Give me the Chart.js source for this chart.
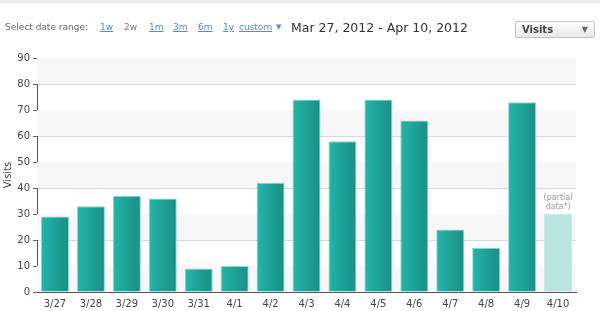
<!DOCTYPE html>
<html>
<head>
<meta charset="utf-8">
<script src="https://cdn.jsdelivr.net/npm/chart.js@4.4.0/dist/chart.umd.min.js"></script>
<style>
  body { margin: 0; width: 600px; height: 311px; overflow: hidden; background: #fff; font-family: "DejaVu Sans", Verdana, sans-serif; }
  #topline { position: absolute; left: 0; top: 0; width: 600px; height: 3px; background: #e9e9e9; }
  .hdr { position: absolute; top: 22px; font-size: 9px; color: #666; white-space: nowrap; }
  .lnk { color: #4a8fd0; text-decoration: underline; }
  #dates { position: absolute; left: 291px; top: 20px; font-size: 12.5px; color: #333; white-space: nowrap; }
  #pick { position: absolute; left: 515px; top: 21px; width: 80px; height: 17px; border: 1px solid #c4c4c4; border-radius: 2px;
          background: linear-gradient(#fdfdfd, #e8e8e8); font-size: 10px; font-weight: bold; color: #444; box-sizing: border-box; }
  #pick b { position: absolute; left: 6px; top: 2px; }
  #pick i { position: absolute; right: 6px; top: 3px; font-style: normal; font-size: 8px; color: #666; }
  #wrap { position: absolute; left: 0; top: 0; width: 600px; height: 311px; }
</style>
</head>
<body>
<div id="topline"></div>
<div id="wrap"><canvas id="grafico" width="600" height="311"></canvas></div>
<div class="hdr" style="left:5px">Select date range:</div>
<div class="hdr lnk" style="left:100px">1w</div>
<div class="hdr" style="left:124px;color:#777">2w</div>
<div class="hdr lnk" style="left:149px">1m</div>
<div class="hdr lnk" style="left:173px">3m</div>
<div class="hdr lnk" style="left:198px">6m</div>
<div class="hdr lnk" style="left:223px">1y</div>
<div class="hdr lnk" style="left:239px">custom</div>
<div class="hdr" style="left:276px;top:23px;color:#4a8fd0;font-size:7px">▼</div>
<div id="dates">Mar 27, 2012 - Apr 10, 2012</div>
<div id="pick"><b>Visits</b><i>▼</i></div>
<script>
const labels = ["3/27", "3/28", "3/29", "3/30", "3/31", "4/1", "4/2", "4/3", "4/4", "4/5", "4/6", "4/7", "4/8", "4/9", "4/10"];
const visits = [29, 33, 37, 36, 9, 10, 42, 74, 58, 74, 66, 24, 17, 73, 30];
const partialIndex = 14;
const yTicks = [0, 10, 20, 30, 40, 50, 60, 70, 80, 90];

const bandsPlugin = {
    id: 'bands',
    beforeDatasetsDraw(chart) {
        const ctx = chart.ctx;
        const y = chart.scales.y;
        const area = chart.chartArea;
        ctx.save();
        ctx.fillStyle = '#f7f7f7';
        for (let v = 0; v < 90; v += 20) {
            const top = y.getPixelForValue(v + 10);
            const bottom = y.getPixelForValue(v);
            ctx.fillRect(area.left, top, area.right - area.left, bottom - top);
        }
        ctx.restore();
    },
    afterDatasetsDraw(chart) {
        const ctx = chart.ctx;
        const bar = chart.getDatasetMeta(0).data[partialIndex];
        ctx.save();
        ctx.fillStyle = '#999';
        ctx.font = '8px "DejaVu Sans"';
        ctx.textAlign = 'center';
        ctx.fillText('(partial', bar.x, bar.y - 14);
        ctx.fillText('data*)', bar.x, bar.y - 5);
        ctx.restore();
    }
};

function barColor(c) {
    if (c.dataIndex === partialIndex) return '#b9e4e0';
    const chart = c.chart;
    if (!chart.chartArea || !chart.scales.x) return '#1fa89c';
    const x = chart.scales.x.getPixelForValue(c.dataIndex);
    const g = chart.ctx.createLinearGradient(x - 14, 0, x + 14, 0);
    g.addColorStop(0, '#23b5a9');
    g.addColorStop(1, '#1a8f85');
    return g;
}

const config = {
    type: 'bar',
    data: {
        labels,
        datasets: [{
            label: 'Visits',
            data: visits,
            backgroundColor: barColor,
            borderColor: (c) => c.dataIndex === partialIndex ? '#c8ebe7' : '#8fd6cf',
            borderWidth: 1,
            borderSkipped: 'bottom',
            barPercentage: 0.78,
            categoryPercentage: 1
        }]
    },
    options: {
        responsive: false,
        animation: false,
        layout: { padding: { top: 58, right: 24, left: 2, bottom: 0 } },
        plugins: { legend: { display: false }, tooltip: { enabled: false } },
        scales: {
            x: {
                grid: { display: false, drawTicks: false },
                border: { color: '#555', width: 1 },
                ticks: { color: '#444', font: { family: 'DejaVu Sans', size: 10 }, padding: 6, maxRotation: 0, autoSkip: false },
                afterFit(s) { s.height = 19; }
            },
            y: {
                min: 0, max: 90,
                afterBuildTicks(s) { s.ticks = yTicks.map(v => ({ value: v })); },
                grid: { color: '#d9d9d9', tickLength: 4, tickColor: '#666' },
                border: { color: '#555', width: 1 },
                ticks: { color: '#444', font: { family: 'DejaVu Sans', size: 10 }, padding: 3 },
                title: { display: true, text: 'Visits', color: '#444', font: { family: 'DejaVu Sans', size: 10 }, padding: 0 },
                afterFit(s) { s.width = 35; }
            }
        }
    },
    plugins: [bandsPlugin]
};

new Chart(document.getElementById('grafico'), config);
</script>
</body>
</html>
